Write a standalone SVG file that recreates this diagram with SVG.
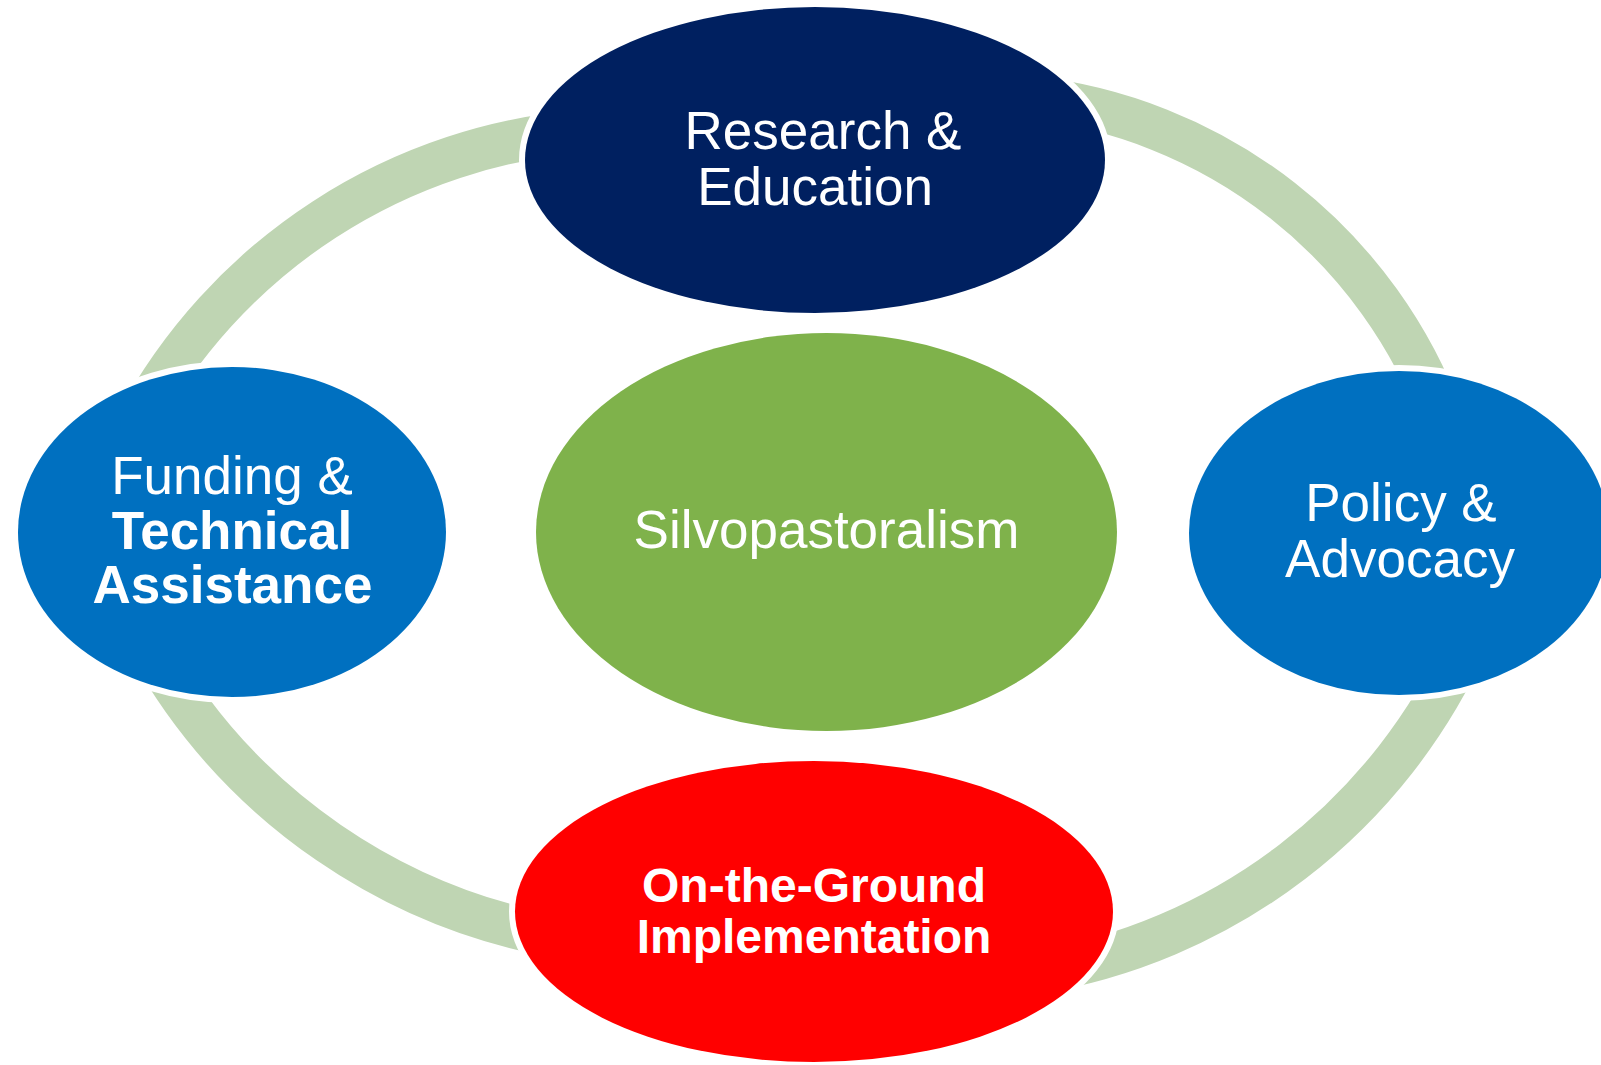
<svg xmlns="http://www.w3.org/2000/svg" width="1601" height="1065" viewBox="0 0 1601 1065">
<style>
.ring{fill:none;stroke:#BFD5B3;stroke-width:43;stroke-linecap:butt}
.node{stroke:#FFFFFF;stroke-width:12;paint-order:stroke}
.t{font-family:"Liberation Sans",Arial,sans-serif;fill:#FFFFFF;text-anchor:middle;font-size:53px}
.b{font-weight:bold}
</style>
<rect width="1601" height="1065" fill="#FFFFFF"/>
<g id="connectors">
<path class="ring" d="M135.5,425.5 A558.4,558.4 0 0 1 589.5,130.7"/>
<path class="ring" d="M1027.5,97.2 A497.5,497.5 0 0 1 1443,421.9"/>
<path class="ring" d="M1468,639.1 A575.1,575.1 0 0 1 1032.5,973.2"/>
<path class="ring" d="M578.7,939.8 A585.1,585.1 0 0 1 148.4,644.1"/>
</g>
<g id="node-center">
<ellipse class="node" cx="826.5" cy="532" rx="290.5" ry="199" fill="#7FB24B"/>
<text class="t" x="826.5" y="548">Silvopastoralism</text>
</g>
<g id="node-research">
<ellipse class="node" cx="815" cy="160" rx="290" ry="153" fill="#002060"/>
<text class="t" x="823" y="149">Research &amp;</text>
<text class="t" x="815" y="205">Education</text>
</g>
<g id="node-funding">
<ellipse class="node" cx="232" cy="532" rx="214" ry="165" fill="#0070C0"/>
<text class="t" x="232" y="494">Funding &amp;</text>
<text class="t b" x="232" y="549">Technical</text>
<text class="t b" x="232.5" y="603">Assistance</text>
</g>
<g id="node-policy">
<ellipse class="node" cx="1399" cy="533" rx="210" ry="162" fill="#0070C0"/>
<text class="t" x="1401" y="521">Policy &amp;</text>
<text class="t" x="1400" y="577">Advocacy</text>
</g>
<g id="node-ground">
<ellipse class="node" cx="814" cy="911.5" rx="299" ry="150.5" fill="#FF0000"/>
<text class="t b" x="814" y="902" style="font-size:48px">On-the-Ground</text>
<text class="t b" x="814" y="953" style="font-size:48px">Implementation</text>
</g>
</svg>
